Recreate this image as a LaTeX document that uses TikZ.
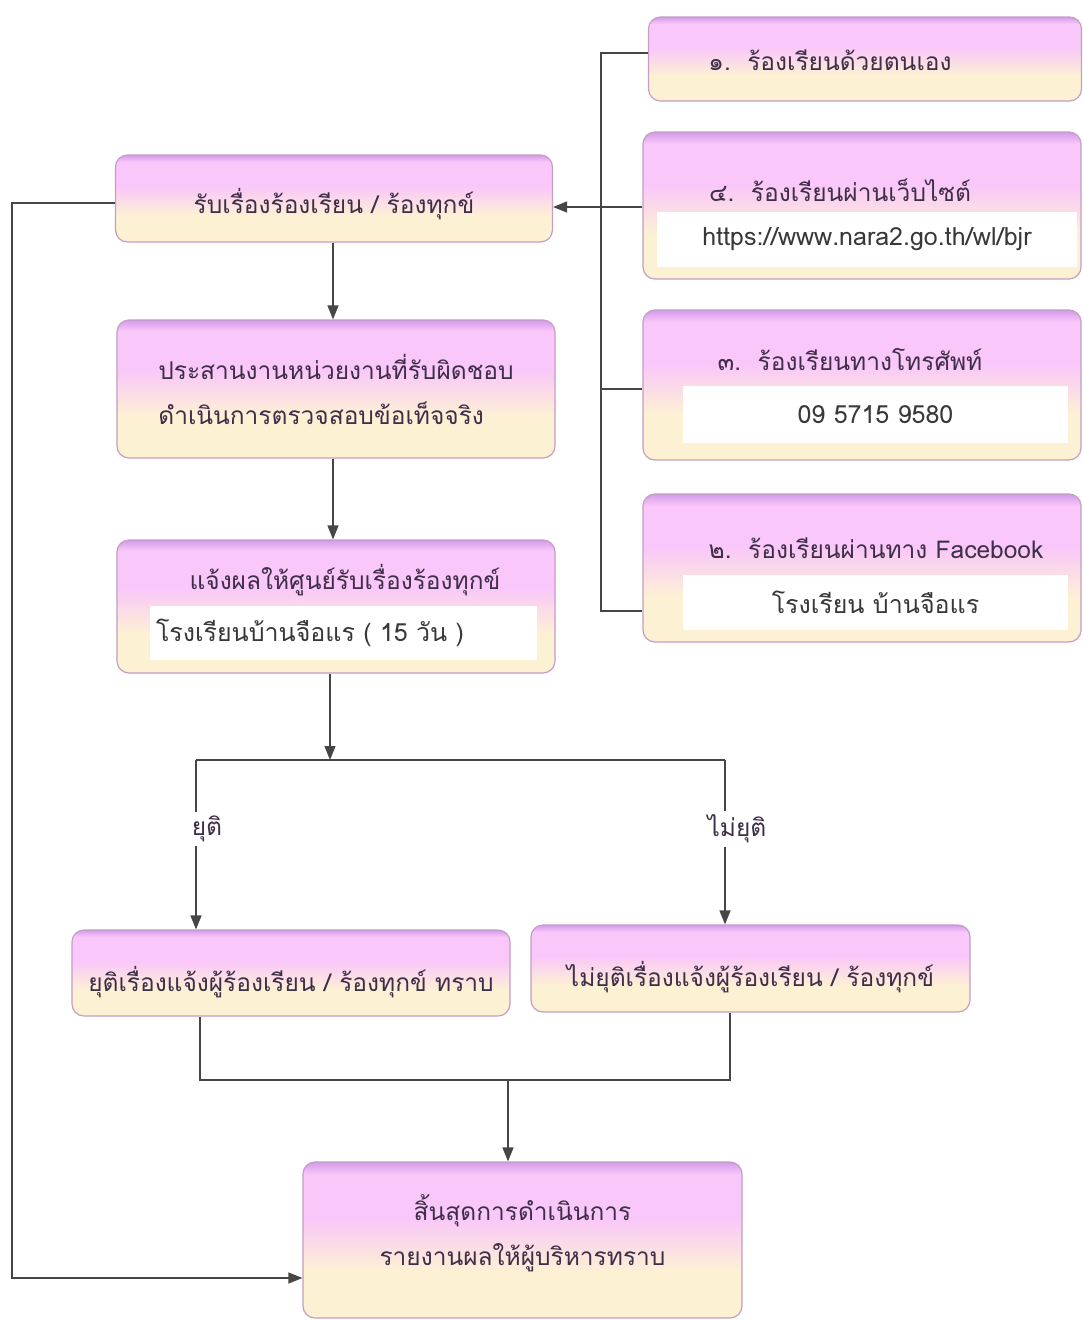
\documentclass[tikz,border=0pt]{standalone}
\usepackage{fontspec}
\newfontfamily\thaifont[Script=Thai]{Loma}
\usetikzlibrary{arrows.meta}

\definecolor{boxtop}{RGB}{212,154,234}
\definecolor{boxpink}{RGB}{249,199,249}
\definecolor{boxcream}{RGB}{253,241,212}
\definecolor{boxedge}{RGB}{196,158,196}
\definecolor{boxtext}{RGB}{62,46,72}
\definecolor{linegray}{RGB}{70,70,70}

\pgfdeclareverticalshading{cboxshade}{100bp}{color(0bp)=(boxcream); color(25bp)=(boxcream); color(40bp)=(boxcream); color(57bp)=(boxpink); color(71bp)=(boxpink); color(75bp)=(boxtop); color(100bp)=(boxtop)}

% move a line of text down without changing its box
\newcommand{\dropline}[2]{\raisebox{-#1}[\height][\depth]{#2}}

\tikzset{
  cbox/.style={draw=boxedge, line width=1.2pt, rounded corners=12pt, shading=cboxshade, inner sep=0pt},
  strip/.style={fill=white, inner sep=0pt},
  btext/.style={font=\thaifont\fontsize{24.5}{45}\selectfont, text=boxtext, align=center},
  stext/.style={font=\thaifont\fontsize{25}{28}\selectfont, text=black!78},
  conn/.style={draw=linegray, line width=1.3pt},
  arr/.style={conn, -{Triangle[length=14pt,width=11pt]}}
}

\begin{document}
\begin{tikzpicture}[x=1pt,y=-1pt]
  \useasboundingbox[fill=white] (0,0) rectangle (1082,1320);

  % left column
  \node[cbox, btext, minimum width=437pt, minimum height=87pt] (recv) at (334,198.5) {\dropline{6pt}{รับเรื่องร้องเรียน / ร้องทุกข์}};
  \node[cbox, btext, align=left, minimum width=438pt, minimum height=138pt] (check) at (336,389) {ประสานงานหน่วยงานที่รับผิดชอบ\\ดำเนินการตรวจสอบข้อเท็จจริง};
  \node[cbox, minimum width=438pt, minimum height=133pt] (notify) at (336,606.5) {};
  \node[btext] (notifyt) at (345,580) {แจ้งผลให้ศูนย์รับเรื่องร้องทุกข์};
  \node[strip, stext, minimum height=54pt, text width=375pt, inner xsep=6pt] (notifys) at (343.5,633) {โรงเรียนบ้านจือแร ( 15 วัน )};

  % end boxes
  \node[cbox, btext, minimum width=438pt, minimum height=86pt] (endok) at (291,973) {\dropline{9pt}{ยุติเรื่องแจ้งผู้ร้องเรียน / ร้องทุกข์ ทราบ}};
  \node[cbox, btext, minimum width=439pt, minimum height=87pt] (endno) at (750.5,968.5) {\dropline{9pt}{ไม่ยุติเรื่องแจ้งผู้ร้องเรียน / ร้องทุกข์}};
  \node[cbox, btext, minimum width=439pt, minimum height=156pt, text depth=20pt] (finish) at (522.5,1240) {สิ้นสุดการดำเนินการ\\รายงานผลให้ผู้บริหารทราบ};

  % right column
  \node[cbox, minimum width=433pt, minimum height=84pt] (c1) at (865,59) {};
  \node[btext] (c1t) at (830,60) {๑.~~ร้องเรียนด้วยตนเอง};
  \node[cbox, minimum width=438pt, minimum height=147pt] (c4) at (862,205.5) {};
  \node[btext] (c4t) at (840,190) {๔.~~ร้องเรียนผ่านเว็บไซต์};
  \node[strip, stext, minimum width=420pt, minimum height=55pt] (c4s) at (867,239.5) {https://www.nara2.go.th/wl/bjr};
  \node[cbox, minimum width=438pt, minimum height=150pt] (c3) at (862,385) {};
  \node[btext] (c3t) at (850,360) {๓.~~ร้องเรียนทางโทรศัพท์};
  \node[strip, stext, minimum width=385pt, minimum height=57pt] (c3s) at (875.5,414.5) {09 5715 9580};
  \node[cbox, minimum width=438pt, minimum height=148pt] (c2) at (862,568) {};
  \node[btext] (c2t) at (876,548) {๒.~~ร้องเรียนผ่านทาง Facebook};
  \node[strip, stext, minimum width=385pt, minimum height=55pt] (c2s) at (875.5,602.5) {โรงเรียน บ้านจือแร};

  % branch labels
  \node[btext] (lok) at (207,829) {ยุติ};
  \node[btext] (lno) at (737,829) {ไม่ยุติ};

  % junction points
  \coordinate (tk1) at (601,53);
  \coordinate (tk2) at (601,611);
  \coordinate (tk3) at (601,389);
  \coordinate (tk4) at (601,207);
  \coordinate (sp) at (330,760);
  \coordinate (spl) at (196,760);
  \coordinate (spr) at (725,760);
  \coordinate (mgl) at (200,1080);
  \coordinate (mgr) at (730,1080);
  \coordinate (mg) at (508,1080);
  \coordinate (fb1) at (12,203);
  \coordinate (fb2) at (12,1278);

  % connectors
  \draw[arr] (recv.south -| 333,0) -- (check.north -| 333,0);
  \draw[arr] (check.south -| 333,0) -- (notify.north -| 333,0);
  \draw[arr] (notify.south -| sp) -- (sp);
  \draw[conn] (spl) -- (spr);
  \draw[conn] (spl) -- (spl |- lok.north);
  \draw[arr] (spl |- lok.south) -- (spl |- endok.north);
  \draw[conn] (spr) -- (spr |- lno.north);
  \draw[arr] (spr |- lno.south) -- (spr |- endno.north);
  \draw[conn] (endok.south -| mgl) -- (mgl) -- (mgr) -- (endno.south -| mgr);
  \draw[arr] (mg) -- (finish.north -| mg);
  \draw[arr] (recv.west |- fb1) -- (fb1) -- (fb2) -- (finish.west |- fb2);

  \draw[conn] (c1.west |- tk1) -- (tk1) -- (tk2) -- (c2.west |- tk2);
  \draw[conn] (c3.west |- tk3) -- (tk3);
  \draw[arr] (c4.west |- tk4) -- (recv.east |- tk4);
\end{tikzpicture}
\end{document}
